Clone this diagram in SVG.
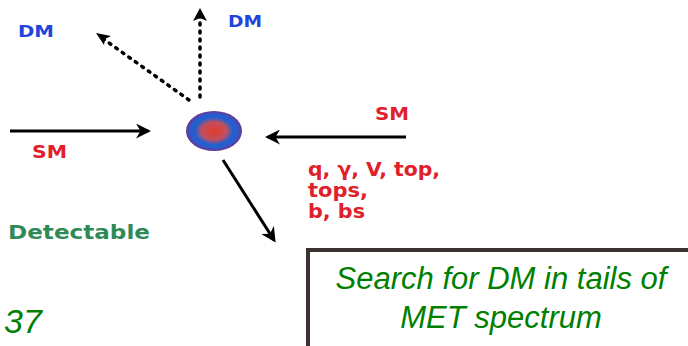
<svg xmlns="http://www.w3.org/2000/svg" width="688" height="346" viewBox="0 0 688 346">
<style>
.lbl{font-family:"DejaVu Sans",Verdana,sans-serif;font-weight:bold}
.dm{fill:#2244dd;font-size:16px}
.sm{fill:#e0202a;font-size:17px}
.red{fill:#e0202a;font-size:19px}
.ln{stroke:#000;stroke-width:3;fill:none}
.dot{stroke:#000;stroke-width:3.5;fill:none;stroke-dasharray:2 6;stroke-linecap:round}
.note{fill:#008000;font-size:31px;font-style:italic;font-family:"Liberation Sans",Arial,sans-serif}
</style>
<defs>
<radialGradient id="g" cx="0.5" cy="0.5" r="0.5">
<stop offset="0" stop-color="#e53a2a"/>
<stop offset="0.45" stop-color="#c05060"/>
<stop offset="0.68" stop-color="#2060d0"/>
<stop offset="0.84" stop-color="#2a5ccc"/>
<stop offset="1" stop-color="#6a3590"/>
</radialGradient>
<marker id="ah" viewBox="0 0 10 10" refX="8" refY="5" markerWidth="5" markerHeight="5" orient="auto" markerUnits="strokeWidth">
<path d="M0,0 L10,5 L0,10 L3,5 z" fill="#000"/>
</marker>
</defs>
<g id="connectors">
<line class="ln" x1="10" y1="131" x2="148" y2="131" marker-end="url(#ah)"/>
<line class="ln" x1="406" y1="137" x2="268" y2="137" marker-end="url(#ah)"/>
<line class="ln" x1="223" y1="160" x2="274" y2="240" marker-end="url(#ah)"/>
<line class="dot" x1="200" y1="97" x2="200" y2="14"/>
<path d="M200,8 L207,21 L200,18 L193,21 z" fill="#000"/>
<line class="dot" x1="189" y1="100" x2="102" y2="38"/>
<path d="M96,33 L111,36 L105,39 L104,45 z" fill="#000"/>
</g>
<g id="collision">
<ellipse cx="214" cy="131" rx="28" ry="20" fill="url(#g)"/>
</g>
<g id="labels">
<text class="lbl dm" x="18" y="37" textLength="36" lengthAdjust="spacingAndGlyphs">DM</text>
<text class="lbl dm" x="228" y="27" textLength="34" lengthAdjust="spacingAndGlyphs">DM</text>
<text class="lbl sm" x="32" y="158" textLength="35" lengthAdjust="spacingAndGlyphs">SM</text>
<text class="lbl sm" x="375" y="120" textLength="34" lengthAdjust="spacingAndGlyphs">SM</text>
<text class="lbl red" x="308" y="176" textLength="132" lengthAdjust="spacingAndGlyphs">q, γ, V, top,</text>
<text class="lbl red" x="308" y="197" textLength="60" lengthAdjust="spacingAndGlyphs">tops,</text>
<text class="lbl red" x="308" y="218" textLength="57" lengthAdjust="spacingAndGlyphs">b, bs</text>
<text class="lbl" x="8" y="239" fill="#2e8b57" font-size="20" textLength="142" lengthAdjust="spacingAndGlyphs">Detectable</text>
<text x="4" y="333" fill="#008000" font-size="34" font-style="italic" font-family="Liberation Sans,Arial,sans-serif">37</text>
</g>
<g id="note">
<rect x="308" y="250" width="384" height="100" fill="#fff" stroke="#3d3232" stroke-width="4"/>
<text class="note" x="501" y="289" text-anchor="middle">Search for DM in tails of</text>
<text class="note" x="501" y="328" text-anchor="middle">MET spectrum</text>
</g>
</svg>
